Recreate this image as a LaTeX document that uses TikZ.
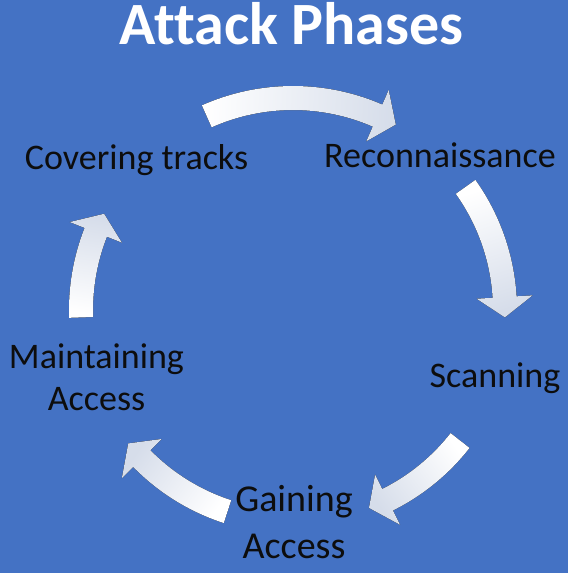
\documentclass[tikz,border=0pt]{standalone}
\usepackage{fontspec}
\setmainfont{Carlito}[Ligatures=NoCommon]
\usetikzlibrary{calc}
\definecolor{bg}{HTML}{4472C4}
\definecolor{headgrey}{RGB}{214,221,234}
\definecolor{txt}{HTML}{0D0D0D}
\tikzset{
  lbl/.style={text=txt,font=\fontsize{36}{42}\selectfont,inner sep=0pt,align=center},
  ttl/.style={font=\fontsize{60}{64}\selectfont\bfseries,inner sep=0pt},
  arrshadow/.style={fill=black,opacity=0.28},
  arrbody/.style={top color=white,middle color=white,bottom color=headgrey}
}
\newcommand\arrpath[2]{($(C)+(#1:224)$) arc[start angle=#1,end angle=\hbase,radius=224]
  -- ($(C)+(\hbase:240)$) -- ($(C)+(#2:212)$) -- ($(C)+(\hbase:184)$)
  -- ($(C)+(\hbase:200)$) arc[start angle=\hbase,end angle=#1,radius=200] -- cycle}
\newcommand\blockarrow[3]{%
  \pgfmathsetmacro\hbase{#2-5.5}%
  \fill[arrshadow,shift={(2,3)}] \arrpath{#1}{#2};
  \fill[arrbody,shading angle=#3] \arrpath{#1}{#2};
}
\begin{document}
\begin{tikzpicture}[x=1pt,y=-1pt]
  \useasboundingbox (0,0) rectangle (568,573);
  \fill[bg] (0,0) rectangle (568,573);
  \coordinate (C) at (293,310);
  % arrows
  \blockarrow{-114}{-61}{87}
  \blockarrow{-35.5}{2}{18}
  \blockarrow{38}{69}{-54}
  \blockarrow{108}{141}{235}
  \blockarrow{178}{207}{171}
  % title
  \node[ttl,text=white,anchor=base] (title) at (291.5,44) {Attack Phases};
  % labels
  \node[lbl,anchor=base] (cover) at (136.5,169) {Covering tracks};
  \node[lbl,anchor=base] (recon) at (440,167) {Reconnaissance};
  \node[lbl,anchor=base] (scan) at (495,387) {Scanning};
  \node[lbl,anchor=base] (maint) at (96.5,410) {Maintaining\\Access};
  \node[lbl,anchor=base,font=\fontsize{38}{47}\selectfont] (gain) at (294,558) {Gaining\\Access};
\end{tikzpicture}
\end{document}
